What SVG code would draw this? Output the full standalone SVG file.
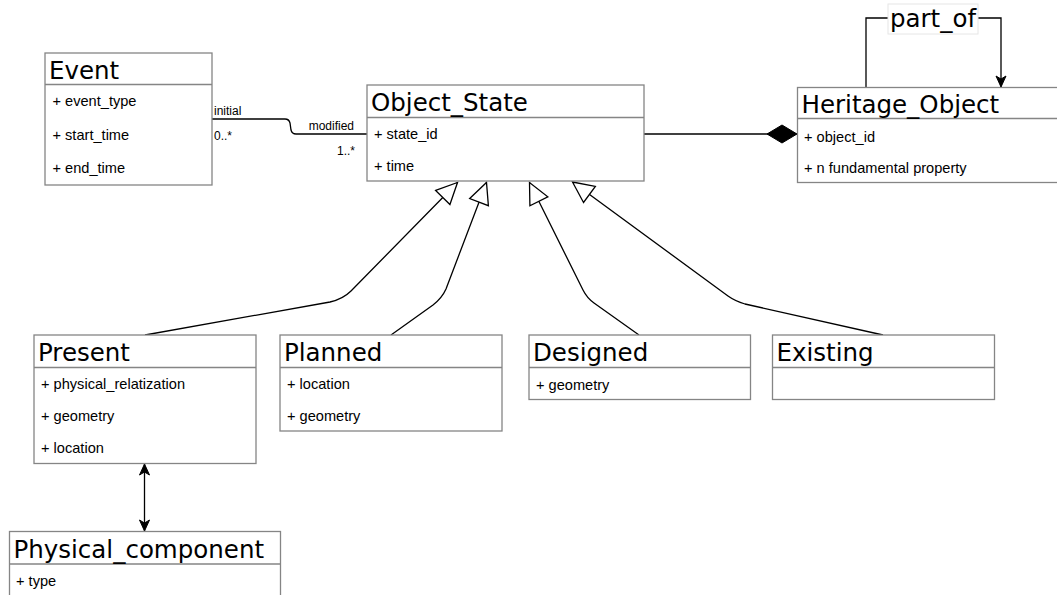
<svg xmlns="http://www.w3.org/2000/svg" width="1057" height="595" viewBox="0 0 1057 595">
  <style>
    .box { fill: #ffffff; stroke: #858585; stroke-width: 1.3; }
    .sep { stroke: #858585; stroke-width: 1.3; fill: none; }
    .title { font-family: "DejaVu Sans", Verdana, sans-serif; font-size: 24.5px; fill: #000; }
    .attr { font-family: "Liberation Sans", Arial, Helvetica, sans-serif; font-size: 14.6px; fill: #000; }
    .role { font-family: "Liberation Sans", Arial, Helvetica, sans-serif; font-size: 12px; fill: #000; }
    .edge { fill: none; stroke: #000; stroke-width: 1.3; }
  </style>
  <defs>
    <!-- hollow triangle for generalization -->
    <marker id="gen" markerUnits="userSpaceOnUse" markerWidth="26" markerHeight="26" refX="22" refY="11" orient="auto" overflow="visible">
      <path d="M1,1 L22,11 L1,21 Z" fill="#ffffff" stroke="#000" stroke-width="1.3"/>
    </marker>
    <!-- filled diamond for composition -->
    <marker id="comp" markerUnits="userSpaceOnUse" markerWidth="34" markerHeight="22" refX="31" refY="10" orient="auto" overflow="visible">
      <path d="M1,10 L16,1 L31,10 L16,19 Z" fill="#000" stroke="#000" stroke-width="1"/>
    </marker>
    <!-- classic filled arrow -->
    <marker id="arrow" markerUnits="userSpaceOnUse" markerWidth="12" markerHeight="12" refX="11" refY="5" orient="auto" overflow="visible">
      <path d="M0,0 L11,5 L0,10 L3,5 Z" fill="#000" stroke="#000" stroke-width="1"/>
    </marker>
    <marker id="arrowStart" markerUnits="userSpaceOnUse" markerWidth="12" markerHeight="12" refX="0" refY="5" orient="auto" overflow="visible">
      <path d="M11,0 L0,5 L11,10 L8,5 Z" fill="#000" stroke="#000" stroke-width="1"/>
    </marker>
  </defs>

  <rect x="0" y="0" width="1057" height="595" fill="#ffffff"/>

  <g id="connectors">
    <!-- Event to Object_State association -->
    <path class="edge" d="M212,119 L285,119 Q289,119 290,123 L291,130 Q292,134 296,134 L367,134"/>
    <text class="role" x="214" y="115">initial</text>
    <text class="role" x="214" y="140">0..*</text>
    <text class="role" x="354" y="130" text-anchor="end">modified</text>
    <text class="role" x="355" y="155" text-anchor="end">1..*</text>

    <!-- Object_State composed into Heritage_Object -->
    <path class="edge" d="M644,134 L797,134" marker-end="url(#comp)"/>

    <!-- part_of self association -->
    <path class="edge" d="M866,87 L866,18 L1001,18 L1001,87" marker-end="url(#arrow)"/>
    <rect x="888" y="4" width="90" height="30" fill="#ffffff" stroke="#e6e6e6" stroke-width="1"/>
    <text class="title" x="933" y="27" text-anchor="middle">part_of</text>

    <!-- generalizations -->
    <path class="edge" d="M145,335 L330,302 Q343,299 351,291 L457.5,182.5" marker-end="url(#gen)"/>
    <path class="edge" d="M391,335 L433,305 Q442,298 446,289 L486.5,182.5" marker-end="url(#gen)"/>
    <path class="edge" d="M639,335 L594,303 Q587,298 583,290 L529.5,182.5" marker-end="url(#gen)"/>
    <path class="edge" d="M883,335 L745,304 Q735,301 728,296 L572.5,182" marker-end="url(#gen)"/>

    <!-- Present to Physical_component -->
    <path class="edge" d="M144.5,464 L144.5,531" marker-start="url(#arrowStart)" marker-end="url(#arrow)"/>
  </g>

  <g id="event">
    <rect class="box" x="45" y="53" width="167" height="132"/>
    <line class="sep" x1="45" y1="84.5" x2="212" y2="84.5"/>
    <text class="title" x="49" y="78.5">Event</text>
    <text class="attr" x="52.5" y="106">+ event_type</text>
    <text class="attr" x="52.5" y="139.5">+ start_time</text>
    <text class="attr" x="52.5" y="173">+ end_time</text>
  </g>

  <g id="object_state">
    <rect class="box" x="367" y="85" width="277" height="96"/>
    <line class="sep" x1="367" y1="117.5" x2="644" y2="117.5"/>
    <text class="title" x="371" y="110.5">Object_State</text>
    <text class="attr" x="374" y="139">+ state_id</text>
    <text class="attr" x="374" y="170.5">+ time</text>
  </g>

  <g id="heritage_object">
    <rect class="box" x="797.5" y="87.5" width="270" height="95"/>
    <line class="sep" x1="797.5" y1="118.5" x2="1067" y2="118.5"/>
    <text class="title" x="801.5" y="112.5">Heritage_Object</text>
    <text class="attr" x="804" y="141.5">+ object_id</text>
    <text class="attr" x="804" y="173">+ n fundamental property</text>
  </g>

  <g id="present">
    <rect class="box" x="34" y="335" width="222" height="128.5"/>
    <line class="sep" x1="34" y1="367.5" x2="256" y2="367.5"/>
    <text class="title" x="38" y="361">Present</text>
    <text class="attr" x="41" y="389">+ physical_relatization</text>
    <text class="attr" x="41" y="421">+ geometry</text>
    <text class="attr" x="41" y="453">+ location</text>
  </g>

  <g id="planned">
    <rect class="box" x="280" y="335" width="222" height="96"/>
    <line class="sep" x1="280" y1="367.5" x2="502" y2="367.5"/>
    <text class="title" x="284" y="361">Planned</text>
    <text class="attr" x="287" y="389">+ location</text>
    <text class="attr" x="287" y="421">+ geometry</text>
  </g>

  <g id="designed">
    <rect class="box" x="529" y="335" width="221.5" height="64.5"/>
    <line class="sep" x1="529" y1="367.5" x2="750.5" y2="367.5"/>
    <text class="title" x="533" y="361">Designed</text>
    <text class="attr" x="536" y="389.5">+ geometry</text>
  </g>

  <g id="existing">
    <rect class="box" x="772.5" y="335" width="222" height="64.5"/>
    <line class="sep" x1="772.5" y1="367.5" x2="994.5" y2="367.5"/>
    <text class="title" x="776.5" y="361">Existing</text>
  </g>

  <g id="physical_component">
    <rect class="box" x="9.5" y="531.5" width="271" height="80"/>
    <line class="sep" x1="9.5" y1="564" x2="280.5" y2="564"/>
    <text class="title" x="13.5" y="557.5">Physical_component</text>
    <text class="attr" x="16" y="585.5">+ type</text>
  </g>
</svg>
